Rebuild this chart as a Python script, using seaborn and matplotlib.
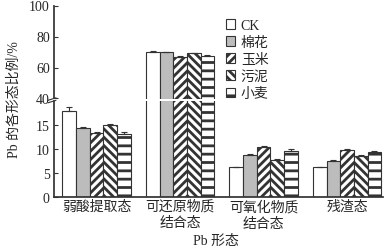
import matplotlib
matplotlib.use("Agg")
import matplotlib.pyplot as plt
import seaborn as sns
import pandas as pd
import numpy as np
from matplotlib.patches import Patch

sns.set_theme(style="white")
plt.rcParams['font.family'] = ['Liberation Serif', 'Noto Sans CJK SC']
plt.rcParams['hatch.linewidth'] = 2.0
plt.rcParams['hatch.color'] = '#111111'

categories = ["弱酸提取态", "可还原物质\n结合态", "可氧化物质\n结合态", "残渣态"]
treatments = ["CK", "棉花", "玉米", "污泥", "小麦"]
vals_CK = [17.9, 70.0, 6.2, 6.2]
vals_mianhua = [14.4, 69.7, 8.7, 7.4]
vals_yumi = [13.3, 66.8, 10.4, 9.8]
vals_wuni = [15.0, 69.1, 7.7, 8.6]
vals_xiaomai = [13.2, 67.7, 9.6, 9.3]
err_CK = [0.9, 0.6, 0.1, 0.1]
err_mianhua = [0.2, 0.2, 0.2, 0.2]
err_yumi = [0.3, 0.3, 0.2, 0.2]
err_wuni = [0.2, 0.3, 0.2, 0.2]
err_xiaomai = [0.4, 0.3, 0.3, 0.2]

series = [vals_CK, vals_mianhua, vals_yumi, vals_wuni, vals_xiaomai]
errs = [err_CK, err_mianhua, err_yumi, err_wuni, err_xiaomai]
rows = []
for t, s, e in zip(treatments, series, errs):
    for c, v, er in zip(categories, s, e):
        rows.append({"cat": c, "trt": t, "val": v, "err": er})
df = pd.DataFrame(rows)

faces = {"CK": "white", "棉花": "#bcbcbc", "玉米": "white", "污泥": "white", "小麦": "white"}
hatches = {"CK": None, "棉花": None, "玉米": "////", "污泥": "\\\\\\\\", "小麦": "--"}

W, H = 386, 253
fig = plt.figure(figsize=(W / 100, H / 100), dpi=100)
left, right = 54 / W, 383 / W
ax_lo = fig.add_axes([left, 1 - 197.7 / H, right - left, (197.7 - 102) / H])
ax_hi = fig.add_axes([left, 1 - 99.5 / H, right - left, (99.5 - 6.5) / H])

for ax in (ax_lo, ax_hi):
    sns.barplot(data=df, x="cat", y="val", hue="trt", order=categories,
                hue_order=treatments, width=0.82, ax=ax, legend=False,
                errorbar=None, palette=["white"] * 5, edgecolor="#333333",
                linewidth=0.8)
    bars = [p for p in ax.patches]
    for i, p in enumerate(bars):
        t = treatments[i // len(categories)]
        c = i % len(categories)
        p.set_facecolor(faces[t])
        if hatches[t]:
            p.set_hatch(hatches[t])
        x = p.get_x() + p.get_width() / 2
        v = series[i // len(categories)][c]
        e = errs[i // len(categories)][c]
        ax.errorbar(x, v, yerr=[[0], [e]], color="#333333", capsize=2.2,
                    elinewidth=0.8, capthick=0.8)
    ax.set_xlim(-0.51, 3.43)
    ax.set_xlabel("")
    ax.set_ylabel("")
    for s in ("top", "right"):
        ax.spines[s].set_visible(False)
    ax.spines["left"].set_color("#333333")
    ax.tick_params(axis="y", direction="in", length=3, width=0.8, color="#333333",
                   labelsize=10, pad=3, left=True)
    ax.tick_params(axis="x", length=0)

ax_lo.set_ylim(0, 20)
ax_lo.set_yticks([0, 5, 10, 15])
ax_lo.spines["bottom"].set_color("#333333")
ax_lo.tick_params(axis="x", labelsize=10, pad=2)
for lab in ax_lo.get_xticklabels():
    lab.set_linespacing(1.35)

ax_hi.set_ylim(40, 100)
ax_hi.set_yticks([40, 60, 80, 100])
ax_hi.spines["bottom"].set_visible(False)
ax_hi.set_xticks([])

bx = left
for yy in (100.3 / H, 102.8 / H):
    fig.add_artist(plt.Line2D([bx - 6 / W, bx + 2 / W], [1 - yy - 1 / H, 1 - yy + 1.5 / H],
                              color="#333333", lw=0.8, transform=fig.transFigure))

fig.text(216 / W, 1 - 241 / H, "Pb 形态", ha="center", va="center", fontsize=10)
fig.text(14 / W, 1 - 100 / H, "Pb 的各形态比例/%", ha="center", va="center",
         rotation=90, fontsize=10)

handles = []
for t in treatments:
    handles.append(Patch(facecolor=faces[t], hatch=hatches[t], edgecolor="#333333",
                         linewidth=0.8, label=t))
leg = ax_hi.legend(handles=handles, loc="upper left",
                   bbox_to_anchor=(220 / W, 1 - 14 / H), bbox_transform=fig.transFigure,
                   frameon=False, fontsize=10, handlelength=0.7, handleheight=0.7,
                   handletextpad=0.4, labelspacing=0.3, borderaxespad=0)

fig.savefig("out.png", dpi=100)
